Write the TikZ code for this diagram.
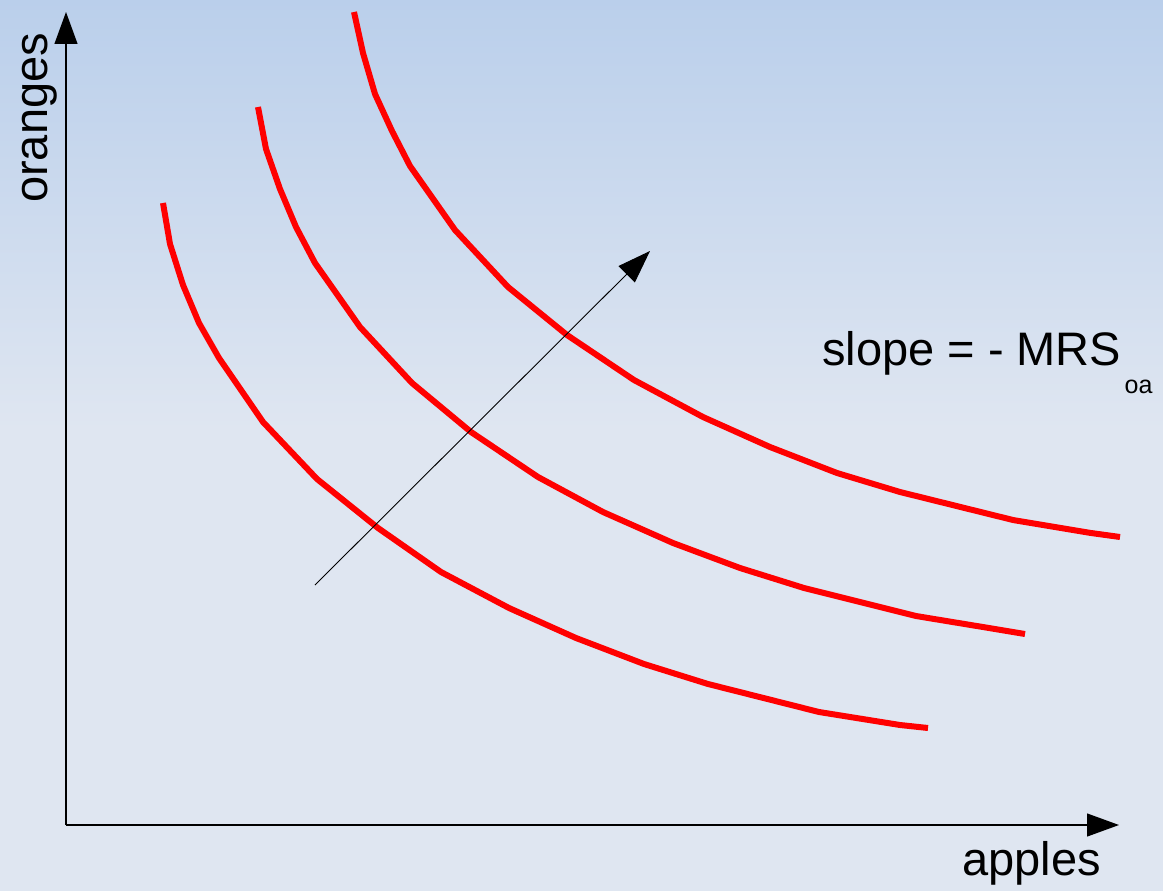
\documentclass[tikz,border=0pt]{standalone}
\usepackage{fontspec}
\setmainfont{Liberation Sans}
\usetikzlibrary{arrows.meta}
\definecolor{bgtop}{RGB}{186,207,235}
\definecolor{bgbot}{RGB}{223,230,241}
\definecolor{curvered}{RGB}{255,0,0}
\tikzset{
  axisline/.style={draw=black, line width=1.2pt, -{Triangle[length=32pt,width=23pt]}},
  shiftarrow/.style={draw=black, line width=0.9pt, -{Triangle[length=33pt,width=23pt]}},
  icurve/.style={draw=curvered, line width=6pt, line join=miter},
  bigtext/.style={inner sep=0pt, font=\fontsize{47}{51}\selectfont},
  subtext/.style={inner sep=0pt, font=\fontsize{25}{29}\selectfont}
}
\begin{document}
\begin{tikzpicture}[x=1pt,y=-1pt]
\useasboundingbox (0,0) rectangle (1163,891);
\shade[top color=bgtop, bottom color=bgbot] (0,0) rectangle (1163,430);
\fill[bgbot] (0,429.5) rectangle (1163,891);
% axes
\coordinate (O) at (66,825);
\coordinate (ytop) at (66,12);
\coordinate (xend) at (1119,825);
\draw[axisline] (O) -- (ytop);
\draw[axisline] (O) -- (xend);
\node[bigtext, rotate=90, anchor=base west] (ylab) at (47,203) {oranges};
\node[bigtext, anchor=base west] (xlab) at (962,875) {apples};
% indifference curves
\draw[icurve] (163,203) -- (170,244) -- (183,285) -- (199,323) -- (219,358) -- (263,422) -- (317,479) -- (378,528) -- (441,572) -- (509,608) -- (576,638) -- (644,664) -- (708,684) -- (819,712) -- (900,725) -- (928,728);
\draw[icurve] (258,107) -- (266,149) -- (280,189) -- (296,227) -- (315,263) -- (360,327) -- (412,383) -- (471,432) -- (538,477) -- (603,512) -- (673,543) -- (740,568) -- (804,588) -- (916,616) -- (995,629) -- (1025,634);
\draw[icurve] (354,12) -- (363,53) -- (375,94) -- (392,131) -- (410,166) -- (455,230) -- (508,287) -- (567,335) -- (634,380) -- (703,417) -- (770,447) -- (837,473) -- (900,492) -- (1013,520) -- (1091,533) -- (1120,537);
% direction arrow
\coordinate (dstart) at (315,585);
\coordinate (dend) at (650,251);
\draw[shiftarrow] (dstart) -- (dend);
% label
\node[bigtext, anchor=base west] (slope) at (822,365) {slope = - MRS};
\node[subtext, anchor=base west] (sub) at (slope.base east) [xshift=3pt, yshift=-28pt] {oa};
\end{tikzpicture}
\end{document}
